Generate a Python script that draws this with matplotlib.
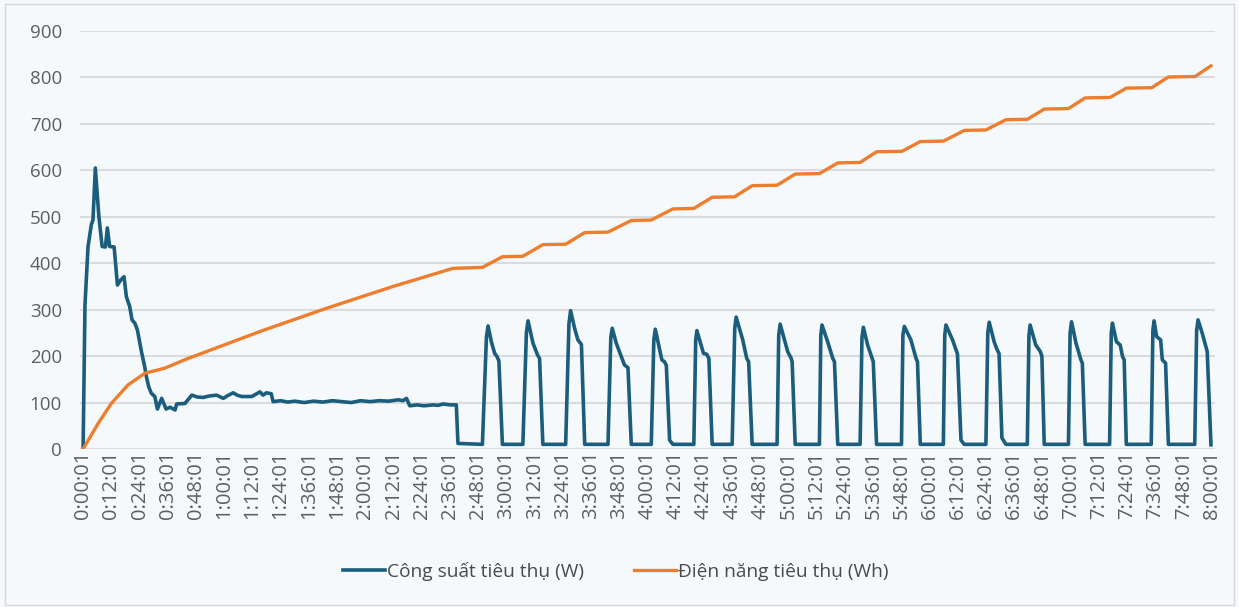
"""Power and energy consumption over 8 hours"""
import matplotlib
matplotlib.use("Agg")
import matplotlib.pyplot as plt
from matplotlib.patches import Rectangle

plt.rcParams['font.family'] = ['Open Sans', 'DejaVu Sans']

# power (W), time in minutes from 0:00:01
power_min = [0, 0.8, 2.1, 3.5, 4.2, 5.2, 6.7, 8.1, 9.5, 10.3, 11.3, 13.2, 14.6, 16.0,
             17.4, 18.4, 19.8, 20.8, 22.0, 23.1, 24.8, 26.2, 26.9, 27.9, 29.0, 30.5,
             31.6, 33.4, 35.3, 37.0, 39.1, 39.8, 43.3, 46.2, 48.5, 51.1, 53.5, 56.8,
             59.6, 61.5, 63.8, 65.5, 67.4, 71.7, 73.5, 75.2, 76.5, 78.0, 80.0, 80.8,
             84, 87, 90, 94, 98, 102, 106, 110, 114, 118, 122, 126, 130, 134, 136,
             137.5, 138.9, 142, 145, 148.8, 151, 153.1, 156, 158.7, 159.4,
             # cycling part
             169.8, 171.5, 172.2, 173.6, 175.0, 176.0, 176.8, 178.3,
             187.0, 188.5, 189.2, 191.3, 193.2, 194.1, 195.5,
             205.2, 206.6, 207.3, 209.0, 210.4, 211.9, 213.3,
             223.2, 224.4, 225.0, 226.7, 230.2, 231.7, 233.1,
             241.6, 242.7, 243.3, 246.1, 247.2, 248.0, 249.4, 250.8,
             259.7, 260.5, 261.0, 263.8, 265.2, 266.1, 267.5,
             276.0, 277.1, 277.7, 280.5, 282.2, 283.0, 284.5,
             295.1, 295.8, 296.4, 299.6, 301.1, 301.5, 302.8,
             313.1, 313.7, 314.2, 316.6, 318.8, 319.5, 320.9,
             330.4, 331.2, 331.8, 333.6, 335.5, 336.0, 337.4,
             348.0, 348.6, 349.2, 352.0, 354.2, 354.8, 356.0,
             365.8, 366.4, 366.9, 369.7, 371.1, 371.8, 373.3, 374.7,
             383.9, 384.7, 385.3, 387.4, 388.4, 389.5, 390.7, 392.4,
             401.5, 402.2, 402.7, 405.1, 407.0, 407.7, 408.7,
             419.0, 419.7, 420.3, 422.2, 424.3, 424.9, 426.1,
             436.5, 437.2, 437.7, 439.4, 441.0, 442.0, 442.7, 443.6,
             454.2, 454.9, 455.4, 456.5, 458.2, 458.9, 460.3, 461.5,
             472.7, 473.5, 474.1, 475.9, 478.0, 479.6]
power_w = [0, 310, 436, 483, 493, 605, 501, 436, 435, 476, 436, 435, 353, 364,
           371, 328, 307, 278, 271, 256, 210, 177, 156, 134, 120, 113,
           86, 109, 86, 90, 84, 97, 98, 116, 112, 111, 114, 116,
           109, 115, 121, 116, 113, 113, 118, 123, 116, 121, 119, 102,
           104, 101, 103, 100, 103, 101, 104, 102, 100, 104, 102, 104, 103, 106, 104,
           109, 93, 95, 93, 95, 94, 97, 95, 95, 12,
           10, 240, 265, 231, 206, 199, 190, 10,
           10, 250, 276, 228, 203, 195, 10,
           10, 270, 298, 260, 235, 225, 10,
           10, 240, 260, 228, 181, 175, 10,
           10, 235, 258, 192, 188, 180, 19, 10,
           10, 235, 255, 206, 204, 195, 10,
           10, 260, 284, 235, 195, 188, 10,
           10, 245, 269, 210, 195, 188, 10,
           10, 245, 267, 231, 195, 188, 10,
           10, 240, 262, 224, 195, 188, 10,
           10, 245, 264, 235, 195, 188, 10,
           10, 245, 267, 235, 215, 205, 19, 10,
           10, 250, 273, 231, 217, 205, 24, 10,
           10, 245, 267, 224, 210, 200, 10,
           10, 250, 274, 228, 192, 185, 10,
           10, 250, 271, 231, 224, 199, 192, 10,
           10, 255, 276, 242, 235, 192, 185, 10,
           10, 255, 278, 249, 210, 9]

# energy (Wh)
energy_min = [0, 6.4, 12.0, 19.1, 26.2, 34.7, 44.6, 46.8, 75.2, 103.5, 131.8, 157.3,
              169.8, 178.3, 187.0, 195.5, 205.2, 213.3, 223.2, 233.1, 241.6, 250.8,
              259.7, 267.5, 277.0, 284.5, 295.1, 302.8, 313.1, 320.9, 330.4, 337.4,
              348.2, 356.0, 365.9, 374.7, 383.9, 392.4, 401.6, 408.7, 419.0, 426.1,
              436.7, 443.6, 454.4, 461.5, 472.8, 479.6]
energy_wh = [0, 55, 98, 138, 163, 174, 195, 199, 253, 303, 350, 389,
             391, 414, 415, 440, 441, 466, 467, 492, 493, 517,
             518, 542, 543, 567, 568, 592, 593, 616, 617, 640,
             641, 662, 663, 686, 687, 709, 710, 732, 733, 756,
             757, 777, 778, 801, 802, 825]

tick_min = list(range(0, 481, 12))
tick_labels = ['%d:%02d:01' % (m // 60, m % 60) for m in tick_min]


def show_graph():
    """Draw both series on one axis."""
    fig = plt.figure(figsize=(12.39, 6.07), dpi=100)
    fig.patch.set_facecolor('#f6f9fc')
    fig.patches.append(Rectangle((0.004, 0.004), 0.992, 0.99, transform=fig.transFigure,
                                 fill=False, edgecolor='#d4d8dc', linewidth=1))
    ax = fig.add_axes([0.0646, 0.2603, 0.916, 0.6886])
    ax.set_facecolor('none')

    l1, = ax.plot(power_min, power_w, color='#1a5d7d', linewidth=2.6,
                  solid_joinstyle='round')
    l2, = ax.plot(energy_min, energy_wh, color='#ee7d2e', linewidth=2.4,
                  solid_joinstyle='round')

    ax.set_xlim(-1.3, 481.3)
    ax.set_ylim(0, 900)
    ax.set_yticks(range(0, 901, 100))
    ax.set_xticks(tick_min)
    ax.set_xticklabels(tick_labels, rotation=90)
    ax.tick_params(axis='both', length=0, colors='#5e5e5e')
    ax.tick_params(axis='x', pad=1, labelsize=14.5)
    ax.tick_params(axis='y', pad=13, labelsize=13.5)
    ax.grid(axis='y', color='#d9dbdd', linewidth=1.5)
    ax.set_axisbelow(True)
    for side in ax.spines.values():
        side.set_visible(False)

    fig.legend((l1, l2), ('Công suất tiêu thụ (W)', 'Điện năng tiêu thụ (Wh)'),
               loc='center', bbox_to_anchor=(0.497, 0.059), ncol=2, frameon=False,
               fontsize=13.8, handlelength=2.2, handletextpad=0.1, columnspacing=2.6,
               labelcolor='#4a4a4a')
    fig.savefig('out.png', dpi=100, facecolor=fig.get_facecolor())


show_graph()
